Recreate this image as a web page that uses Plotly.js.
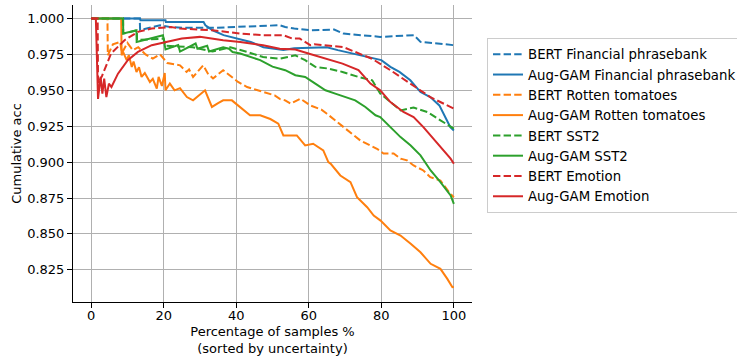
<!DOCTYPE html>
<html>
<head>
<meta charset="utf-8">
<script src="https://cdn.plot.ly/plotly-3.0.1.min.js"></script>
<style>html,body{margin:0;padding:0;background:#fff;overflow:hidden;}#chart{width:737px;height:356px;}</style>
</head>
<body>
<div id="chart"></div>
<script>
const seriesNames = ["BERT Financial phrasebank","Aug-GAM Financial phrasebank","BERT Rotten tomatoes","Aug-GAM Rotten tomatoes","BERT SST2","Aug-GAM SST2","BERT Emotion","Aug-GAM Emotion"];

const xBertFin = [0,13.4,13.5,16,19,22,26,33.5,40,47,52,53.5,56,60.4,67,69.6,79.7,89,90.8,95.5,100];
const yBertFin = [1,1,0.992,0.9935,0.9953,0.994,0.9935,0.9935,0.994,0.995,0.9953,0.9941,0.993,0.9918,0.9923,0.9895,0.9872,0.9884,0.9837,0.9826,0.9814];

const xGamFin = [0,13.5,13.6,20.5,20.6,31,31.5,33.5,36.5,40,44,47.5,51,53,56,60,65,68,72,76,78,80,82.5,85,88,90.8,93.5,96,99,100];
const yGamFin = [1,1,0.9988,0.9988,0.9975,0.9975,0.9953,0.9918,0.9884,0.986,0.9837,0.980,0.9784,0.978,0.9793,0.9797,0.980,0.978,0.9755,0.973,0.9721,0.971,0.9663,0.9628,0.957,0.9488,0.9453,0.9395,0.9244,0.922];

const xBertRot = [0,4.5,4.6,6,8,8.5,10,11.5,13,15,17,19,21,24.5,26.3,27,28.1,30.9,32.2,33.6,36.4,38.3,40.5,43,45.8,48.5,50.6,52,53.5,55,57.7,60.4,63.5,65,69.6,74.2,78.8,80.6,83.4,85.3,87.1,88.9,91.6,93.5,96.3,99,100];
const yBertRot = [1,1,0.9744,0.982,0.9837,0.976,0.983,0.978,0.980,0.975,0.972,0.975,0.969,0.9674,0.9628,0.9645,0.9593,0.9674,0.9616,0.9582,0.964,0.9605,0.9558,0.9523,0.950,0.9477,0.9465,0.944,0.943,0.9407,0.9442,0.9395,0.9365,0.9337,0.9244,0.9151,0.9093,0.906,0.906,0.9024,0.9012,0.8977,0.8942,0.8895,0.8872,0.878,0.8756];

const xGamRot = [0,8.3,8.4,8.8,9.8,10.4,11.2,11.7,12.5,13.2,13.9,14.8,16.2,17,18.1,18.6,19.5,20.3,20.5,21.7,23,24.5,26.4,28.1,31.4,33.3,35,36.4,38.8,40.5,43.8,46.6,49.4,51.6,53,56.7,59,61.2,64,65.4,66,68.7,71.5,73.3,76.1,77.9,79.8,82.5,85.3,88.1,90.8,93.6,96.3,98.2,99.6,100];
const yGamRot = [1,1,0.9744,0.9767,0.971,0.9745,0.9663,0.970,0.9628,0.966,0.9593,0.962,0.9558,0.958,0.9512,0.9593,0.953,0.962,0.950,0.9547,0.950,0.9515,0.9453,0.943,0.950,0.9384,0.941,0.943,0.943,0.9395,0.9326,0.9326,0.930,0.9268,0.9186,0.9186,0.9116,0.9128,0.9082,0.900,0.899,0.8907,0.8861,0.8756,0.8686,0.8628,0.8593,0.8524,0.8489,0.8431,0.8372,0.8292,0.8257,0.8187,0.8129,0.813];

const xBertSst = [0,8.8,8.85,12.6,12.65,20,20.5,28,33.5,38.4,43,47.4,52,56.3,59,61.8,65.5,69.3,73.7,77.5,79.7,82.5,85.3,88.9,92.7,96.3,99.1,100];
const yBertSst = [1,1,0.9895,0.9918,0.985,0.986,0.981,0.980,0.977,0.980,0.9767,0.9732,0.972,0.9744,0.971,0.9663,0.9651,0.9628,0.9593,0.957,0.9477,0.9418,0.936,0.938,0.9349,0.9291,0.9244,0.9233];

const xGamSst = [0,8.8,8.85,12.5,12.55,19.8,20.5,24,24.5,28.8,29.3,32,32.5,36.4,38,39,41.1,43.8,46.6,50,53.5,56.3,59,61.8,64.6,67.3,70,72.8,75.6,78.4,79.7,82.5,85.3,88.1,90.8,93.6,96.3,99.1,100];
const yGamSst = [1,1,0.9895,0.9918,0.9837,0.9884,0.9784,0.9815,0.977,0.9826,0.979,0.981,0.977,0.980,0.979,0.9767,0.9756,0.9732,0.971,0.9665,0.964,0.9605,0.9593,0.9547,0.950,0.9477,0.9453,0.943,0.9384,0.9326,0.9314,0.9244,0.9174,0.9116,0.9047,0.8942,0.8861,0.8768,0.871];

const xBertEmo = [0,1.8,1.9,3,5.5,9.2,12.9,16.7,22,24.5,33.5,41.1,47.4,53,55.5,57.5,60.4,61.5,69.6,77.4,82.5,88,93.5,100];
const yBertEmo = [1,1,0.955,0.96,0.9756,0.9849,0.9907,0.993,0.9941,0.993,0.9918,0.9895,0.9884,0.9884,0.986,0.986,0.9814,0.9821,0.980,0.972,0.964,0.9547,0.9453,0.9372];

const xGamEmo = [0,1.3,1.9,2.6,3.1,3.6,4.2,4.9,5.6,7.4,10.1,12.9,16.7,21.2,25,30,33,36.4,41.1,47.4,52,56.3,59.9,64.6,69.3,73.7,77,79.7,82.5,86.1,88.9,91.6,94.4,97.2,99.1,100];
const yGamEmo = [1,1,0.944,0.9593,0.9477,0.9582,0.9453,0.9547,0.9523,0.9616,0.971,0.9767,0.9814,0.9837,0.986,0.9872,0.986,0.9849,0.9837,0.9814,0.979,0.9784,0.9756,0.972,0.9686,0.964,0.9547,0.950,0.9418,0.9349,0.9314,0.9244,0.9163,0.9082,0.9024,0.8989];

const xTicks = [0,20,40,60,80,100];
const yTicks = [0.825,0.850,0.875,0.900,0.925,0.950,0.975,1.000];
const yTickText = ["0.825","0.850","0.875","0.900","0.925","0.950","0.975","1.000"];

const colors = ["#1f77b4","#1f77b4","#ff7f0e","#ff7f0e","#2ca02c","#2ca02c","#d62728","#d62728"];
const dashed = "7.4px,3.2px";
const xs = [xBertFin,xGamFin,xBertRot,xGamRot,xBertSst,xGamSst,xBertEmo,xGamEmo];
const ys = [yBertFin,yGamFin,yBertRot,yGamRot,yBertSst,yGamSst,yBertEmo,yGamEmo];

const traces = seriesNames.map((n,i)=>({
  x: xs[i], y: ys[i], name: n, type: 'scatter', mode: 'lines',
  line: {color: colors[i], width: 2, dash: i%2===0 ? dashed : 'solid'}
}));

const layout = {
  width: 737, height: 356,
  margin: {l: 73, r: 265, t: 5, b: 54},
  paper_bgcolor: '#fff', plot_bgcolor: '#fff',
  font: {family: 'DejaVu Sans', size: 13, color: '#000'},
  showlegend: true,
  legend: {xref: 'container', yref: 'container', x: 0.6608, y: 0.893, xanchor: 'left', yanchor: 'top',
    bordercolor: '#cccccc', borderwidth: 1, bgcolor: '#fff', font: {family: 'DejaVu Sans', size: 13.3, color: '#000'}, tracegroupgap: 0, itemwidth: 30},
  xaxis: {range: [-5,105], tickvals: xTicks, ticktext: xTicks.map(String), showgrid: true, gridcolor: '#b0b0b0', gridwidth: 1,
    showline: true, linecolor: '#000', linewidth: 1, ticks: 'outside', ticklen: 5, tickcolor: '#000', zeroline: false,
    ticklabelstandoff: -4,
    title: {text: 'Percentage of samples %<br>(sorted by uncertainty)', standoff: 8, font: {size: 13}}},
  yaxis: {range: [0.8026,1.0094], tickvals: yTicks, ticktext: yTickText, showgrid: true, gridcolor: '#b0b0b0', gridwidth: 1,
    showline: true, linecolor: '#000', linewidth: 1, ticks: 'outside', ticklen: 5, tickcolor: '#000', zeroline: false,
    title: {text: 'Cumulative acc', standoff: 2, font: {size: 13}}}
};

Plotly.newPlot('chart', traces, layout, {displayModeBar: false, staticPlot: true});
</script>
</body>
</html>
